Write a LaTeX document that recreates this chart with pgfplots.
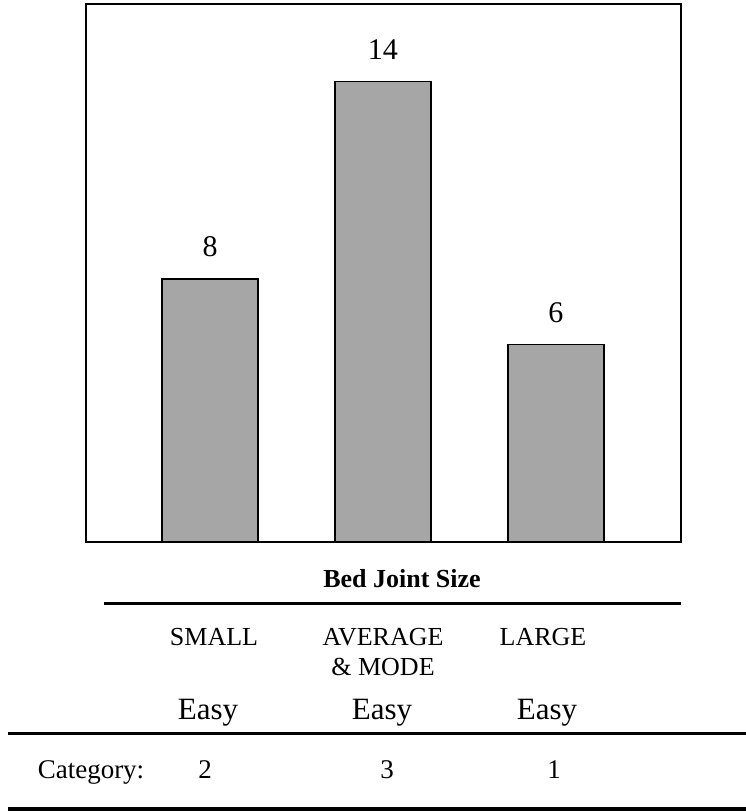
\documentclass[border=0pt]{standalone}
\usepackage{pgfplots}
\pgfplotsset{compat=1.18}
\usepackage{fontspec}
\setmainfont{Liberation Serif}
\definecolor{barfill}{RGB}{166,166,166}
\begin{document}
\begin{tikzpicture}
\useasboundingbox (0pt,0pt) rectangle (746pt,-811pt);
\begin{axis}[
  at={(86pt,-4pt)}, anchor=north west,
  scale only axis, width=595pt, height=538pt,
  xmin=-0.717, xmax=2.723, ymin=0, ymax=16.37,
  axis line style={line width=1.5pt},
  xtick=\empty, ytick=\empty,
  ybar, bar width=96pt, bar shift=0pt,
  /pgf/number format/assume math mode=true,
  nodes near coords,
  nodes near coords style={font=\fontsize{30}{36}\selectfont, yshift=18pt, text=black},
]
\addplot[fill=barfill, draw=black, line width=1.2pt] coordinates {(0,8) (1,14) (2,6)};
\end{axis}
\node[anchor=base, font=\bfseries\fontsize{26}{31}\selectfont] at (402pt,-587pt) {Bed Joint Size};
\draw[line width=3pt] (104pt,-603pt) -- (681pt,-603pt);
\begin{scope}[every node/.style={anchor=base, font=\fontsize{26}{31}\selectfont}]
\node at (214pt,-645pt) {SMALL};
\node at (383pt,-645pt) {AVERAGE};
\node at (383pt,-675pt) {\& MODE};
\node at (543pt,-645pt) {LARGE};
\end{scope}
\begin{scope}[every node/.style={anchor=base, font=\fontsize{31}{36}\selectfont}]
\node at (208pt,-719pt) {Easy};
\node at (382pt,-719pt) {Easy};
\node at (547pt,-719pt) {Easy};
\end{scope}
\draw[line width=3pt] (8pt,-733pt) -- (746pt,-733pt);
\begin{scope}[every node/.style={anchor=base, font=\fontsize{27}{32}\selectfont}]
\node at (91pt,-778pt) {Category:};
\node at (205pt,-778pt) {2};
\node at (387pt,-778pt) {3};
\node at (554pt,-778pt) {1};
\end{scope}
\draw[line width=3.5pt] (8pt,-809pt) -- (746pt,-809pt);
\end{tikzpicture}
\end{document}
